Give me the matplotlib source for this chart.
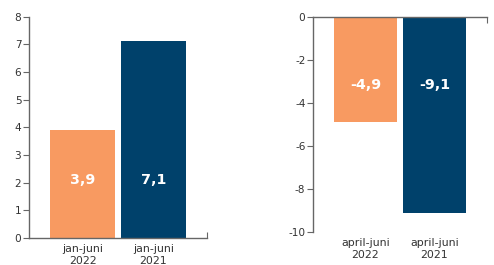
import matplotlib
matplotlib.use("Agg")
import matplotlib.pyplot as plt

plt.rcParams['font.family'] = ['DejaVu Sans']
plt.rcParams['axes.unicode_minus'] = False

# Data
left_cats = ['jan-juni\n2022', 'jan-juni\n2021']
left_vals = [3.9, 7.1]
right_cats = ['april-juni\n2022', 'april-juni\n2021']
right_vals = [-4.9, -9.1]
bar_colors = ['#F89A61', '#00416B']

axis_col = '#666666'
text_col = '#333333'

fig = plt.figure(figsize=(4.94, 2.65), dpi=100)
ax1 = fig.add_axes([0.0587, 0.1019, 0.3603, 0.8358])
ax2 = fig.add_axes([0.6336, 0.1245, 0.3522, 0.8125])


def style_axis(ax, x_spine):
    for s in ['top', 'right', 'bottom', 'left']:
        ax.spines[s].set_visible(False)
    ax.spines['left'].set_visible(True)
    ax.spines[x_spine].set_visible(True)
    for s in ['left', x_spine]:
        ax.spines[s].set_color(axis_col)
        ax.spines[s].set_linewidth(1.0)
    ax.tick_params(axis='y', length=4, width=0.8, color=axis_col,
                   labelsize=7.6, labelcolor=text_col, pad=1.5)
    ax.tick_params(axis='x', which='major', length=0, labelsize=7.9,
                   labelcolor=text_col, pad=4.5)


# Left panel: jan-juni
x = range(len(left_vals))
ax1.bar(x, left_vals, width=0.915, color=bar_colors)
ax1.set_xlim(-0.754, 1.754)
ax1.set_ylim(0, 8)
ax1.set_yticks(range(0, 9))
ax1.set_xticks(list(x))
ax1.set_xticklabels(left_cats, linespacing=1.2)
style_axis(ax1, 'bottom')
ax1.set_xticks([1.754], minor=True)
ax1.tick_params(axis='x', which='minor', direction='in', length=4,
                width=0.8, color=axis_col, bottom=True)
for i, v in enumerate(left_vals):
    ax1.text(i, 2.1, f'{v:.1f}'.replace('.', ','), ha='center', va='center',
             color='white', fontsize=10.3, fontweight='bold')

# Right panel: april-juni
x = range(len(right_vals))
ax2.bar(x, right_vals, width=0.913, color=bar_colors)
ax2.set_xlim(-0.761, 1.761)
ax2.set_ylim(-10, 0)
ax2.set_yticks(range(-10, 1, 2))
ax2.set_xticks(list(x))
ax2.set_xticklabels(right_cats, linespacing=1.2)
style_axis(ax2, 'top')
ax2.set_xticks([1.761], minor=True)
ax2.tick_params(axis='x', which='minor', direction='in', length=4,
                width=0.8, color=axis_col, top=True, bottom=False)
for i, v in enumerate(right_vals):
    ax2.text(i, -3.15, f'{v:.1f}'.replace('.', ','), ha='center', va='center',
             color='white', fontsize=10.3, fontweight='bold')

fig.savefig('out.png', dpi=100)
